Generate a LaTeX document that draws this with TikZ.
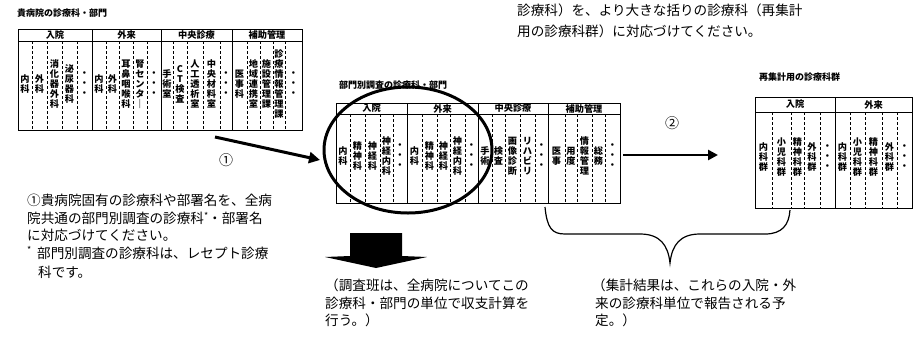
\documentclass[tikz,border=0pt]{standalone}
\usepackage{fontspec}
\newfontfamily\jp{Noto Sans CJK JP}
\usetikzlibrary{arrows.meta,shapes.geometric}
\begin{document}
\begin{tikzpicture}[x=1pt,y=-1pt,
  tbl/.style={line width=0.9pt},
  inn/.style={line width=0.5pt, densely dashed},
  cellt/.style={font=\jp\bfseries\fontsize{9.2}{10}\selectfont, align=center, inner sep=0pt},
  headt/.style={font=\jp\bfseries\fontsize{9.2}{9.2}\selectfont, inner sep=0pt},
  titlet/.style={font=\jp\bfseries\fontsize{9}{9}\selectfont, inner sep=0pt, anchor=west},
  bodyt/.style={font=\jp\fontsize{13.6}{13.6}\selectfont, inner sep=0pt, anchor=west},
  numt/.style={font=\jp\fontsize{14}{14}\selectfont, inner sep=0pt},
  bigarrow/.style={line width=3pt, -{Triangle[length=11pt,width=11pt]}},
]
\useasboundingbox (0,0) rectangle (919,341);
\fill[white] (0,0) rectangle (919,341);

% top text
\node[bodyt] (top1) at (517,10) {診療科）を、より大きな括りの診療科（再集計};
\node[bodyt] (top2) at (517,31) {用の診療科群）に対応づけてください。};

% ---------- table 1 ----------
\node[titlet] (t1title) at (17,13) {貴病院の診療科・部門};
\draw[tbl] (18,29) rectangle (302,130);
\draw[tbl] (18,41) -- (302,41);
\foreach \x in {92,161,232} \draw[tbl] (\x,29) -- (\x,130);
\foreach \x in {32,47,62,77,106,119,133,147,173,187,203,220,247,260,273,285} \draw[inn] (\x,41) -- (\x,130);
\node[headt] (t1h1) at (55,35) {入院};
\node[headt] (t1h2) at (126.5,35) {外来};
\node[headt] (t1h3) at (196.5,35) {中央診療};
\node[headt] (t1h4) at (267,35) {補助管理};
\foreach \x/\t [count=\i] in {25/{内\\科},39.5/{外\\科},54.5/{消\\化\\器\\外\\科},69.5/{泌\\尿\\器\\科},84.5/{・\\・\\・},
  99/{内\\科},112.5/{外\\科},126/{耳\\鼻\\咽\\喉\\科},140/{腎\\セ\\ン\\タ\\｜},154/{・\\・\\・},
  167/{手\\術\\室},180/{C\\T\\検\\査},195/{人\\工\\透\\析\\室},211.5/{中\\央\\材\\料\\室},226/{・\\・\\・},
  239.5/{医\\事\\科},253.5/{地\\域\\連\\携\\室},266.5/{施\\設\\管\\理\\課},279/{診\\療\\情\\報\\管\\理\\課},293.5/{・\\・\\・}}
  \node[cellt] (t1c\i) at (\x,84) {\t};

% ---------- table 2 ----------
\node[titlet] (t2title) at (339,85) {部門別調査の診療科・部門};
\draw[tbl] (336,103) rectangle (620,203);
\draw[tbl] (336,114) -- (620,114);
\foreach \x in {407,478,548} \draw[tbl] (\x,103) -- (\x,203);
\foreach \x in {350,365,380,393,422,437,450,465,492,505,520,535,565,577,592,605} \draw[inn] (\x,114) -- (\x,203);
\node[headt] (t2h1) at (371.5,108.5) {入院};
\node[headt] (t2h2) at (442.5,108.5) {外来};
\node[headt] (t2h3) at (513,108.5) {中央診療};
\node[headt] (t2h4) at (584,108.5) {補助管理};
\foreach \x/\t [count=\i] in {343/{内\\科},357.5/{精\\神\\科},372.5/{神\\経\\科},386.5/{神\\経\\内\\科},400/{・\\・\\・},
  414.5/{内\\科},429.5/{精\\神\\科},443.5/{神\\経\\科},457.5/{神\\経\\内\\科},471.5/{・\\・\\・},
  485/{手\\術},498.5/{検\\査},512.5/{画\\像\\診\\断},527.5/{リ\\ハ\\ビ\\リ},541.5/{・\\・\\・},
  556.5/{医\\事},571/{用\\度},584.5/{情\\報\\管\\理},598.5/{総\\務},612.5/{・\\・\\・}}
  \node[cellt] (t2c\i) at (\x,156) {\t};

% ---------- table 3 ----------
\node[titlet] (t3title) at (759,77) {再集計用の診療科群};
\draw[tbl] (755,97) rectangle (912,208);
\draw[tbl] (755,112) -- (912,112);
\draw[tbl] (835,97) -- (835,208);
\foreach \x in {772,791,804,820,850,865,882,897} \draw[inn] (\x,112) -- (\x,208);
\node[headt] (t3h1) at (795,104.5) {入院};
\node[headt] (t3h2) at (873.5,104.5) {外来};
\foreach \x/\t [count=\i] in {763.5/{内\\科\\群},781.5/{小\\児\\科\\群},797.5/{精\\神\\科\\群},812/{外\\科\\群},827.5/{・\\・\\・},
  842.5/{内\\科\\群},857.5/{小\\児\\科\\群},873.5/{精\\神\\科\\群},889.5/{外\\科\\群},904.5/{・\\・\\・}}
  \node[cellt] (t3c\i) at (\x,157) {\t};

% ---------- ellipse ----------
\node[draw, ellipse, line width=3pt, minimum width=168pt, minimum height=126pt, inner sep=0pt] (circ) at (408,150) {};

% ---------- arrows ----------
\coordinate (a1s) at (215,137);
\coordinate (a1e) at (320,160);
\draw[bigarrow] (a1s) -- (a1e);
\node[numt] (n1) at (226,160) {①};

\coordinate (a2s) at (623,155);
\coordinate (a2e) at (718,155);
\draw[line width=2.6pt, -{Triangle[length=10pt,width=10pt]}] (a2s) -- (a2e);
\node[numt] (n2) at (672,123) {②};

% block arrow
\fill (350,233) -- (402,233) -- (402,256) -- (427,257) -- (376,268) -- (325,257) -- (350,256) -- cycle;

% brace
\draw[line width=1.2pt] (545,207) .. controls (547,228) and (552,234) .. (565,234) -- (640,234)
  .. controls (660,234) and (668,245) .. (670,263)
  .. controls (672,245) and (680,234) .. (700,234) -- (765,234)
  .. controls (782,234) and (789,225) .. (790,210);

% ---------- left text ----------
\node[bodyt] (l1) at (27,200) {①貴病院固有の診療科や部署名を、全病};
\node[bodyt] (l2) at (27,218) {院共通の部門別調査の診療科\raisebox{4pt}{\fontsize{9}{9}\selectfont *}・部署名};
\node[bodyt] (l3) at (27,235) {に対応づけてください。};
\node[bodyt] (l4s) at (27,250) {\fontsize{9}{9}\selectfont *};
\node[bodyt] (l4) at (37,253) {部門別調査の診療科は、レセプト診療};
\node[bodyt] (l5) at (38,272) {科です。};

% ---------- middle text ----------
\node[bodyt] (m1) at (325,285) {（調査班は、全病院についてこの};
\node[bodyt] (m2) at (325,303) {診療科・部門の単位で収支計算を};
\node[bodyt] (m3) at (325,320) {行う。）};

% ---------- right text ----------
\node[bodyt] (r1) at (592,285) {（集計結果は、これらの入院・外};
\node[bodyt] (r2) at (595,303) {来の診療科単位で報告される予};
\node[bodyt] (r3) at (595,320) {定。）};
\end{tikzpicture}
\end{document}
